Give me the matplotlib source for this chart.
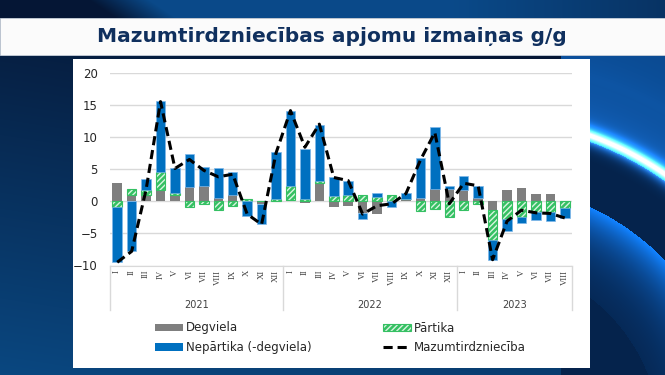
import numpy as np
import matplotlib
matplotlib.use("Agg")
import matplotlib.pyplot as plt
from matplotlib.patches import Rectangle, Patch
from matplotlib.lines import Line2D
from matplotlib.transforms import blended_transform_factory

# ---- data ----
months = ['I', 'II', 'III', 'IV', 'V', 'VI', 'VII', 'VIII', 'IX', 'X', 'XI', 'XII',
          'I', 'II', 'III', 'IV', 'V', 'VI', 'VII', 'VIII', 'IX', 'X', 'XI', 'XII',
          'I', 'II', 'III', 'IV', 'V', 'VI', 'VII', 'VIII']
years = ['2021', '2022', '2023']
year_len = [12, 12, 8]

degviela = [2.9, 1.0, 0.9, 1.7, 0.9, 2.2, 2.3, 0.5, 1.0, 0.0, -0.5, 0.0,
            0.2, -0.2, 2.9, -0.9, -0.8, -1.9, -2.0, 0.0, 0.3, 0.5, 1.9, 1.9,
            1.7, 0.5, -1.4, 1.7, 2.1, 1.2, 1.1, 0.0]
partika = [-0.9, 0.9, 0.8, 2.9, 0.4, -0.9, -0.5, -1.4, -0.7, 0.4, 0.1, 0.3,
           2.1, 0.3, 0.3, 0.8, 1.0, 1.0, 0.6, 1.0, 0.0, -1.5, -1.2, -2.4,
           -1.3, -0.4, -4.7, -2.7, -2.4, -1.6, -1.6, -1.1]
nepartika = [-8.5, -7.8, 1.7, 11.0, 3.9, 5.1, 3.0, 4.6, 3.5, -2.3, -3.0, 7.3,
             11.8, 7.8, 8.7, 3.0, 2.2, -0.9, 0.7, -0.9, 1.0, 6.2, 9.6, 0.4,
             2.2, 1.9, -3.1, -2.0, -1.0, -1.3, -1.4, -1.5]
mazumtirdz = [-9.5, -7.8, 1.8, 15.5, 5.1, 6.5, 4.8, 3.8, 4.2, -2.0, -3.6, 7.5,
              14.1, 8.4, 12.0, 3.7, 3.2, -2.0, -0.7, -0.4, 1.2, 6.4, 10.7, -0.4,
              2.8, 2.4, -9.1, -3.1, -1.4, -1.8, -1.9, -2.6]

title = "Mazumtirdzniec\u012bbas apjomu izmai\u0146as g/g"

GRAY = '#7f7f7f'
GREEN = '#35c063'
BLUE = '#0070c0'
NAVY = '#10305e'

W, H = 665, 375
fig = plt.figure(figsize=(W / 100, H / 100), dpi=100)

# ---- background: dark blue gradient with glowing arcs on the right ----
bg = fig.add_axes([0, 0, 1, 1], zorder=-10)
yy, xx = np.mgrid[0:H, 0:W].astype(float)
dark = np.array([0.02, 0.09, 0.21])
light = np.array([0.04, 0.29, 0.52])
f = np.clip(0.05 + 0.9 * yy / H - 0.25 * xx / W, 0, 1)
img = dark + (light - dark) * f[..., None]

# top strip: dark on the left, lighter diagonal further right
ft = np.clip((xx - 90 - yy * 1.5) / 60, 0, 1) * (1 - 0.45 * np.clip((xx - 450) / 215, 0, 1))
top = dark + (np.array([0.04, 0.29, 0.54]) - dark) * ft[..., None]
img = np.where((yy < 18)[..., None], top, img)

# right strip
right = (xx > 560)
d = np.hypot(xx - 480, yy - 440)
rbase = np.array([0.02, 0.14, 0.30]) + np.array([0.02, 0.14, 0.25]) * np.clip((d - 300) / 80, 0, 1)[..., None]
halo = np.exp(-np.clip(d - 324, 0, None) / 35) * (d > 318)
rimg = rbase + halo[..., None] * np.array([0.06, 0.25, 0.45])
band = np.exp(-np.clip(258 - d, 0, None) / 28) * (d < 258) * (d > 180)
rimg = rimg + band[..., None] * np.array([0.05, 0.38, 0.72])
glow = np.exp(-((d - 324) / 9) ** 2)
rimg = rimg + glow[..., None] * np.array([0.15, 0.5, 0.9])
core = np.exp(-((d - 324) / 4) ** 2)
rimg = rimg + core[..., None] * np.array([0.9, 0.9, 0.9])
img = np.where((right & (yy >= 18))[..., None], rimg, img)

bg.imshow(np.clip(img, 0, 1), extent=[0, W, H, 0], aspect='auto')
bg.set_xlim(0, W)
bg.set_ylim(H, 0)
bg.axis('off')

# title bar and white panel
bg.add_patch(Rectangle((0, 18), W, 37, facecolor='#fbfbfb', edgecolor='#c8d0da', linewidth=0.6))
bg.add_patch(Rectangle((73, 59), 517, 309, facecolor='white', edgecolor='none'))
bg.text(332, 37, title, ha='center', va='center', fontsize=14.5,
        fontweight='bold', color=NAVY)

# ---- chart ----
ax = fig.add_axes([110 / W, 1 - 265.5 / H, 462 / W, 192.8 / H])
ax.set_facecolor('none')
x = np.arange(len(months))
bw = 0.66

pos_base = np.zeros(len(x))
neg_base = np.zeros(len(x))
for vals, name in [(degviela, 'Degviela'), (partika, 'Pārtika'), (nepartika, 'Nepārtika')]:
    v = np.array(vals)
    base = np.where(v >= 0, pos_base, neg_base)
    if name == 'Degviela':
        ax.bar(x, v, bw, bottom=base, color=GRAY, edgecolor='none', zorder=2)
    elif name == 'Pārtika':
        ax.bar(x, v, bw, bottom=base, color=GREEN, edgecolor='#d8f5e0',
               hatch='//////', linewidth=0, zorder=2)
        ax.bar(x, v, bw, bottom=base, fill=False, edgecolor=GREEN,
               linewidth=0.8, zorder=2)
    else:
        ax.bar(x, v, bw, bottom=base, color=BLUE, edgecolor='#7fb8ea',
               linewidth=0.5, zorder=2)
    pos_base = pos_base + np.where(v >= 0, v, 0)
    neg_base = neg_base + np.where(v < 0, v, 0)

ax.plot(x, mazumtirdz, color='black', linestyle=(0, (3, 1.6)), linewidth=2.2, zorder=3)

ax.set_xlim(-0.5, len(x) - 0.5)
ax.set_ylim(-10, 20)
ax.set_yticks(np.arange(-10, 21, 5))
ax.yaxis.grid(True, color='#d9d9d9', linewidth=1)
ax.set_axisbelow(True)
for s in ['top', 'right', 'left']:
    ax.spines[s].set_visible(False)
ax.spines['bottom'].set_color('#d9d9d9')
ax.tick_params(axis='y', length=0, pad=9, labelsize=8.5, labelcolor='#262626')
ax.set_xticks(x)
ax.set_xticklabels(months, rotation=90, fontfamily='Liberation Serif', fontsize=6.3,
                   color='#404040')
ax.tick_params(axis='x', length=0, pad=3)

# year level of the category axis
tr = blended_transform_factory(ax.transData, fig.transFigure)
start = 0
edges = [-0.5]
for yr, n in zip(years, year_len):
    ax.text(start + (n - 1) / 2, 1 - 304.5 / H, yr, transform=tr, ha='center',
            va='center', fontsize=7, color='#404040')
    start += n
    edges.append(start - 0.5)
for e in edges:
    fig.add_artist(Line2D([e, e], [1 - 265.5 / H, 1 - 310 / H], transform=tr,
                          color='#d9d9d9', linewidth=1))

# ---- legend, two columns placed like the reference ----
h_deg = Patch(facecolor=GRAY, edgecolor='none')
h_nep = Patch(facecolor=BLUE, edgecolor='none')
h_par = (Patch(facecolor=GREEN, edgecolor='#d8f5e0', hatch='//////', linewidth=0),
         Patch(fill=False, edgecolor=GREEN, linewidth=0.8))
h_line = Line2D([], [], color='black', linestyle=(0, (3, 1.6)), linewidth=2.2)

leg_kw = dict(frameon=False, fontsize=8.5, handlelength=2.4, handleheight=0.6,
              handletextpad=0.25, labelspacing=0.55, borderpad=0, borderaxespad=0,
              loc='upper left', labelcolor='#262626')
fig.legend([h_deg, h_nep], ['Degviela', 'Nepārtika (-degviela)'],
           bbox_to_anchor=(155 / W, 1 - 321.5 / H), **leg_kw)
fig.legend([h_par, h_line], ['Pārtika', 'Mazumtirdzniecība'],
           bbox_to_anchor=(383 / W, 1 - 321.5 / H), **leg_kw)

fig.savefig('out.png', dpi=100)
